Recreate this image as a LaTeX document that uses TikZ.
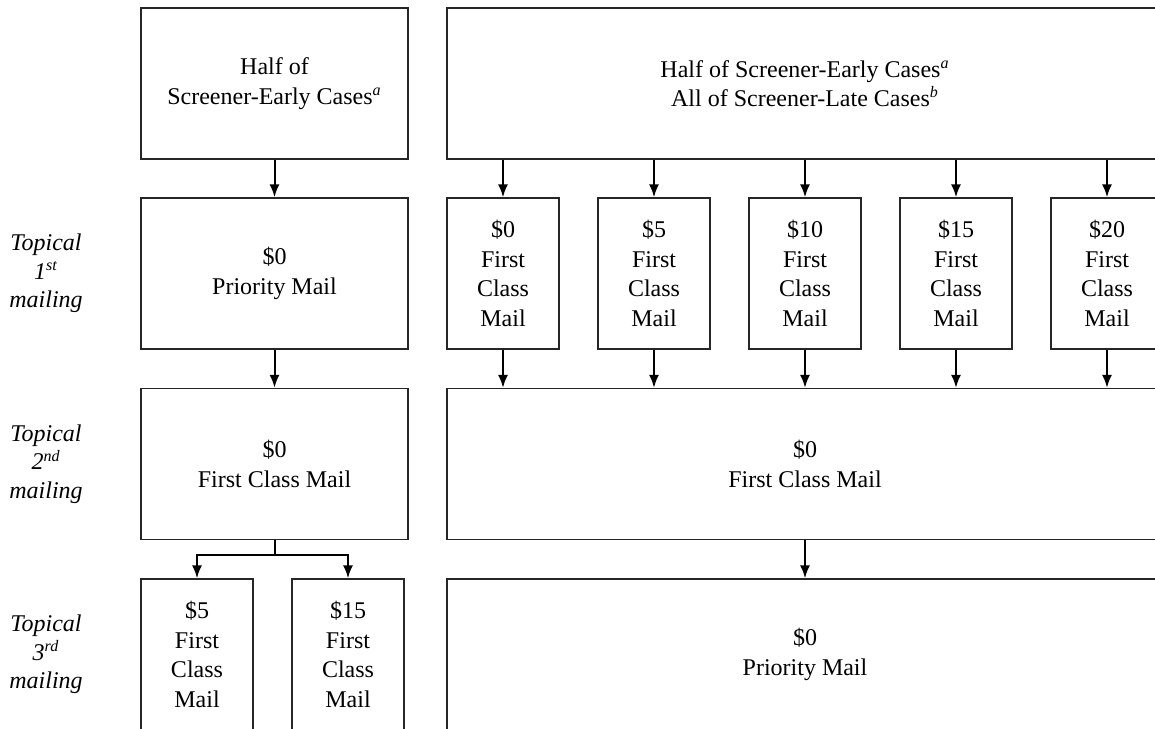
\documentclass[tikz,border=0pt]{standalone}
\usepackage{fontspec}
\setmainfont{Liberation Serif}
\usetikzlibrary{arrows.meta}
\begin{document}
\begin{tikzpicture}[x=0.5pt,y=-0.5pt,
  box/.style={draw=black!85, line width=0.65pt, rectangle, inner sep=0pt, align=center,
    minimum height=75.5pt, font=\fontsize{12}{14.75}\selectfont},
  wideL/.style={box, minimum width=133.5pt},
  wideR/.style={box, minimum width=358pt},
  small/.style={box, minimum width=56pt},
  lab/.style={align=center, inner sep=0pt, font=\fontsize{12}{14.25}\selectfont\itshape},
  arr/.style={-{Latex[length=6.5pt,width=5pt]}, line width=1pt, black}]
\clip (0,0) rectangle (1155,728);
% row 1
\node[wideL] (A) at (274.5,83.5) {Half of\\Screener-Early Cases\textsuperscript{\itshape a}};
\node[wideR] (B) at (805,83.5) {Half of Screener-Early Cases\textsuperscript{\itshape a}\\All of Screener-Late Cases\textsuperscript{\itshape b}};
% row 2
\node[wideL] (C) at (274.5,273.5) {\$0\\Priority Mail};
\node[small] (D1) at (503,273.5) {\$0\\First\\Class\\Mail};
\node[small] (D2) at (654,273.5) {\$5\\First\\Class\\Mail};
\node[small] (D3) at (805,273.5) {\$10\\First\\Class\\Mail};
\node[small] (D4) at (956,273.5) {\$15\\First\\Class\\Mail};
\node[small] (D5) at (1107,273.5) {\$20\\First\\Class\\Mail};
% row 3
\node[wideL] (E) at (274.5,464) {\$0\\First Class Mail};
\node[wideR] (F) at (805,464) {\$0\\First Class Mail};
% row 4
\node[small] (G1) at (197,654.5) {\$5\\First\\Class\\Mail};
\node[small] (G2) at (348,654.5) {\$15\\First\\Class\\Mail};
\node[wideR] (H) at (805,654.5) {\$0\\Priority Mail};
% labels
\node[lab] (L1) at (46,273.5) {Topical\\1\textsuperscript{st}\\mailing};
\node[lab] (L2) at (46,464) {Topical\\2\textsuperscript{nd}\\mailing};
\node[lab] (L3) at (46,654.5) {Topical\\3\textsuperscript{rd}\\mailing};
% arrows
\draw[arr] (A) -- (C);
\foreach \d in {D1,D2,D3,D4,D5}{
  \draw[arr] (B.south -| \d.north) -- (\d.north);
  \draw[arr] (\d.south) -- (\d.south |- F.north);
}
\draw[arr] (C) -- (E);
\draw[arr] (F) -- (H);
\draw[arr] (E.south) -- ++(0,15) -| (G1.north);
\draw[arr] (E.south) -- ++(0,15) -| (G2.north);
\end{tikzpicture}
\end{document}
